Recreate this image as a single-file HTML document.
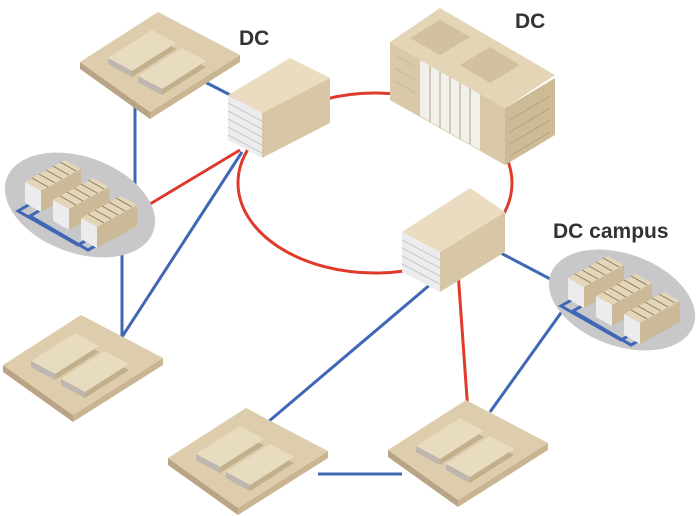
<!DOCTYPE html>
<html><head><style>
html,body{margin:0;padding:0;background:#fff;}
svg{display:block;}
text{font-family:"Liberation Sans",sans-serif;font-weight:bold;fill:#333;font-size:21px;}
</style></head><body>
<svg width="700" height="516" viewBox="0 0 700 516">
<defs>
<g id="plat">
 <polygon points="0,50 70,100 70,107 0,57" fill="#b9a585"/>
 <polygon points="70,100 160,43 160,50 70,107" fill="#c9b592"/>
 <polygon points="0,50 78,0 160,43 70,100" fill="#ddcdac"/>
 <polygon points="28,52 72,24 96,37 52,65" fill="#c2af8c"/>
 <polygon points="28,46 72,18 96,31 52,59" fill="#e8dcc0"/>
 <polygon points="28,46 52,59 52,65 28,52" fill="#bdb7b0"/>
 <polygon points="58,70 102,42 126,55 82,83" fill="#c2af8c"/>
 <polygon points="58,64 102,36 126,49 82,77" fill="#e8dcc0"/>
 <polygon points="58,64 82,77 82,83 58,70" fill="#bdb7b0"/>
</g>
<g id="blk">
 <polygon points="0,20 40,-2 56,7 16,29" fill="#e4d6b8"/>
 <polygon points="0,20 16,29 16,50 0,41" fill="#ececef"/>
 <polygon points="16,29 56,7 56,28 16,50" fill="#cbb997"/>
 <path d="M7,16 L23,25 M14,12 L30,21 M21,8 L37,17 M28,4 L44,13 M35,0 L51,9" stroke="#8a7a60" stroke-width="1"/>
</g>
</defs>
<ellipse cx="375" cy="183" rx="137" ry="90" fill="none" stroke="#e03a2a" stroke-width="3"/>
<g stroke="#3f67b5" stroke-width="3" fill="none">
<line x1="205" y1="82" x2="240" y2="100"/>
<line x1="135" y1="100" x2="135" y2="192"/>
<line x1="122" y1="232" x2="122" y2="340"/>
<line x1="120" y1="340" x2="242" y2="152"/>
<line x1="268" y1="422" x2="432" y2="283"/>
<line x1="318" y1="474" x2="402" y2="474"/>
<line x1="490" y1="412" x2="563" y2="310"/>
<line x1="495" y1="250" x2="556" y2="282"/>
</g>
<g stroke="#e03a2a" stroke-width="3">
<line x1="145" y1="207" x2="240" y2="150"/>
<line x1="458" y1="272" x2="468" y2="412"/>
</g>
<use href="#plat" transform="translate(80,12)"/>
<use href="#plat" transform="translate(3,315)"/>
<use href="#plat" transform="translate(168,408)"/>
<use href="#plat" transform="translate(388,400)"/>
<!-- campus left -->
<ellipse cx="80" cy="205" rx="78" ry="48" transform="rotate(20 80 205)" fill="#c8c8ca"/>
<g stroke="#3f67b5" stroke-width="3" fill="none"><path d="M32,203 L18,211 L78,245 L92,237 M44,208 L30,216 L88,250 L108,239"/></g>
<use href="#blk" transform="translate(25,162)"/>
<use href="#blk" transform="translate(53,180)"/>
<use href="#blk" transform="translate(81,198)"/>
<!-- campus right -->
<ellipse cx="622" cy="300" rx="76" ry="46" transform="rotate(20 622 300)" fill="#c8c8ca"/>
<g stroke="#3f67b5" stroke-width="3" fill="none"><path d="M575,298 L561,306 L621,340 L635,332 M587,303 L573,311 L631,345 L651,334"/></g>
<use href="#blk" transform="translate(568,258)"/>
<use href="#blk" transform="translate(596,276)"/>
<use href="#blk" transform="translate(624,294)"/>
<!-- DC box top-left -->
<polygon points="228,95 262,113 262,158 228,140" fill="#ececee"/>
<g stroke="#c9c9cc" stroke-width="1"><path d="M228,103 L262,121 M228,111 L262,129 M228,119 L262,137 M228,127 L262,145 M228,135 L262,153"/></g>
<polygon points="262,113 330,78 330,123 262,158" fill="#d7c7a6"/>
<polygon points="228,95 290,58 330,78 262,113" fill="#e9dcc0"/>
<!-- middle box -->
<polygon points="402,232 440,252 440,292 402,272" fill="#ececee"/>
<g stroke="#c9c9cc" stroke-width="1"><path d="M402,240 L440,260 M402,248 L440,268 M402,256 L440,276 M402,264 L440,284"/></g>
<polygon points="440,252 505,212 505,252 440,292" fill="#d7c7a6"/>
<polygon points="402,232 470,188 505,212 440,252" fill="#e9dcc0"/>
<!-- big DC -->
<polygon points="390,42 505,108 505,165 390,100" fill="#d9c9a8"/>
<polygon points="420,60 480,94 480,150 420,116" fill="#f2f0ea"/>
<g stroke="#c8bda8" stroke-width="1.5"><path d="M430,66 V122 M440,71 V128 M450,77 V133 M460,83 V139 M470,88 V144"/>
<path d="M395,55 L415,66 M395,68 L415,80 M395,81 L415,93"/></g>
<polygon points="505,108 555,78 555,135 505,165" fill="#cdbb98"/>
<g stroke="#b3a17e" stroke-width="1"><path d="M510,120 L550,96 M510,132 L550,108 M510,144 L550,120 M510,156 L550,132"/></g>
<polygon points="390,42 440,8 555,75 505,108" fill="#e3d5b5"/>
<polygon points="410,38 440,20 470,37 440,55" fill="#d2c19f"/>
<polygon points="460,65 490,47 520,65 490,83" fill="#d2c19f"/>
<text x="239" y="45">DC</text>
<text x="515" y="28">DC</text>
<text x="553" y="238">DC campus</text>
</svg>
</body></html>
